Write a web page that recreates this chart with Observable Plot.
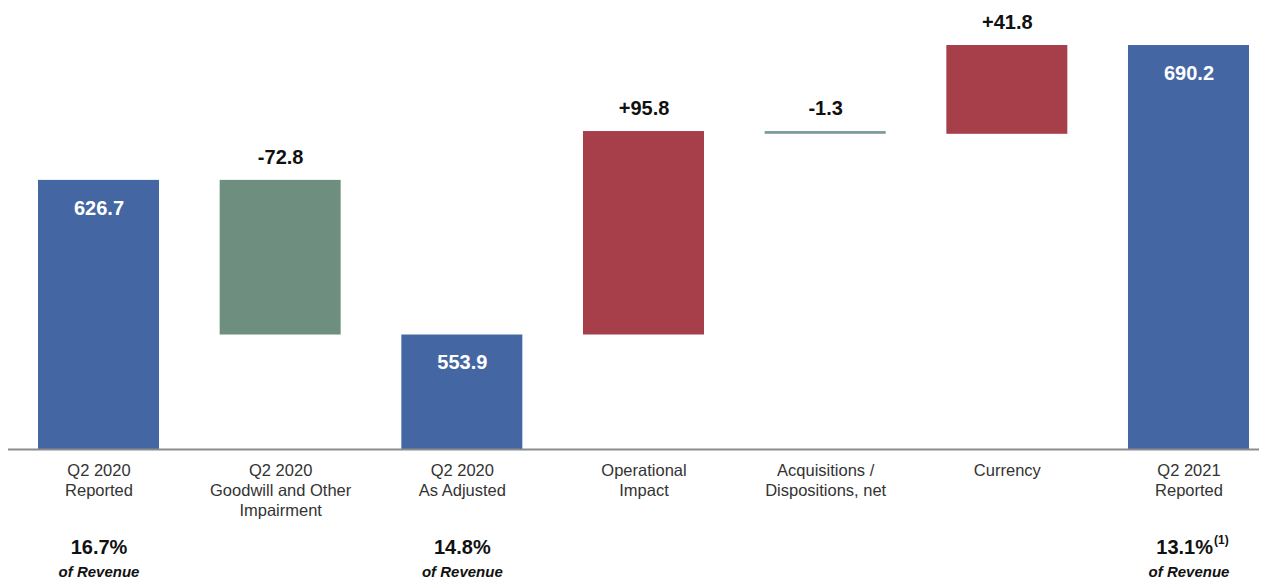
<!DOCTYPE html>
<html>
<head>
<meta charset="utf-8">
<script src="https://cdn.jsdelivr.net/npm/d3@7"></script>
<script src="https://cdn.jsdelivr.net/npm/@observablehq/plot@0.6"></script>
<style>
  html, body { margin: 0; padding: 0; background: #fff; }
  #chart svg { display: block; font-family: "Liberation Sans", Arial, sans-serif; }
</style>
</head>
<body>
<div id="chart"></div>
<script>
// ---- data ----
const categories = [
  "Q2 2020\nReported",
  "Q2 2020\nGoodwill and Other\nImpairment",
  "Q2 2020\nAs Adjusted",
  "Operational\nImpact",
  "Acquisitions /\nDispositions, net",
  "Currency",
  "Q2 2021\nReported"
];
const kinds = ["total", "impairment", "total", "increase", "decrease", "increase", "total"];
const values = [626.7, -72.8, 553.9, 95.8, -1.3, 41.8, 690.2];
const valueLabels = ["626.7", "-72.8", "553.9", "+95.8", "-1.3", "+41.8", "690.2"];
const marginLabels = ["16.7%", "", "14.8%", "", "", "", "13.1%"];
const marginNotes = ["", "", "", "", "", "", "(1)"];
const marginSub = ["of Revenue", "", "of Revenue", "", "", "", "of Revenue"];
const yDomain = [500, 700];

// ---- build waterfall table ----
let running = 0;
const rows = categories.map((c, i) => {
  let y1, y2;
  if (kinds[i] === "total") {
    y1 = yDomain[0]; y2 = values[i]; running = values[i];
  } else {
    y1 = running; y2 = running + values[i]; running = y2;
  }
  return {cat: c, kind: kinds[i], y1, y2, top: Math.max(y1, y2),
          label: valueLabels[i], pct: marginLabels[i], note: marginNotes[i], sub: marginSub[i]};
});
const totals = rows.filter(d => d.kind === "total");
const deltas = rows.filter(d => d.kind !== "total");
const pcts = rows.filter(d => d.pct);
const notes = pcts.filter(d => d.note);

const chart = Plot.plot({
  width: 1267,
  height: 580,
  marginLeft: 38,
  marginRight: 18,
  marginTop: 24.2,
  marginBottom: 131,
  style: {fontFamily: "'Liberation Sans', Arial, sans-serif", overflow: "visible"},
  x: {domain: categories, paddingInner: 0.334, paddingOuter: 0, round: false, axis: null},
  y: {domain: yDomain, axis: null},
  color: {domain: ["total", "impairment", "increase", "decrease"],
          range: ["#4467A3", "#6E8F80", "#A63F4A", "#7C9C9B"]},
  marks: [
    Plot.barY(rows, {x: "cat", y1: "y1", y2: "y2", fill: "kind"}),
    Plot.ruleY([yDomain[0]], {stroke: "#8c8c8c", strokeWidth: 2, insetLeft: -30, insetRight: -10}),
    // labels inside total bars
    Plot.text(totals, {x: "cat", y: "top", text: "label", dy: 28, fill: "#fff",
      fontWeight: "bold", fontSize: 20}),
    // labels above delta bars
    Plot.text(deltas, {x: "cat", y: "top", text: "label", dy: -23, fill: "#111",
      fontWeight: "bold", fontSize: 20}),
    // category labels
    Plot.text(rows, {x: "cat", text: "cat", frameAnchor: "bottom", lineAnchor: "top",
      dy: 12, fontSize: 16.5, lineHeight: 1.212, fill: "#333"}),
    // % of revenue (columns without a footnote)
    Plot.text(pcts.filter(d => !d.note), {x: "cat", text: "pct", frameAnchor: "bottom", lineAnchor: "middle",
      dy: 98, fontSize: 20, fontWeight: "bold", fill: "#111"}),
    // % of revenue with footnote marker, right-aligned before the marker
    Plot.text(notes, {x: "cat", text: "pct", frameAnchor: "bottom", lineAnchor: "middle",
      dy: 98, dx: 24, textAnchor: "end", fontSize: 20, fontWeight: "bold", fill: "#111"}),
    Plot.text(notes, {x: "cat", text: "note", frameAnchor: "bottom", lineAnchor: "middle",
      dy: 91, dx: 25, textAnchor: "start", fontSize: 12, fontWeight: "bold", fill: "#111"}),
    Plot.text(pcts, {x: "cat", text: "sub", frameAnchor: "bottom", lineAnchor: "middle",
      dy: 123, fontSize: 15, fontWeight: "bold", fontStyle: "italic", fill: "#111"})
  ]
});
document.getElementById("chart").appendChild(chart);
</script>
</body>
</html>
